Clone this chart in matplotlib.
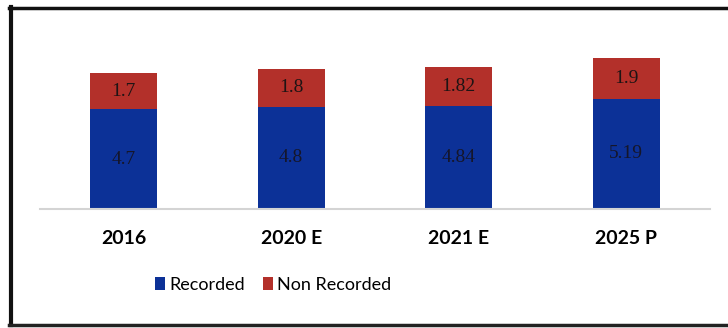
import matplotlib.pyplot as plt
from matplotlib.lines import Line2D
import numpy as np

# market split, recorded vs non recorded
years = ['2016', '2020 E', '2021 E', '2025 P']
recorded = [4.7, 4.8, 4.84, 5.19]
non_recorded = [1.7, 1.8, 1.82, 1.9]

blue = '#0C3197'
red = '#B3302A'
label_font = ['Lato', 'DejaVu Sans']

fig = plt.figure(figsize=(7.28, 3.28), dpi=100)
ax = fig.add_axes([0.055, 0.363, 0.920, 0.518])

x = np.arange(len(years))
b1 = ax.bar(x, recorded, width=0.4, color=blue, zorder=2)
b2 = ax.bar(x, non_recorded, width=0.4, bottom=recorded, color=red, zorder=2)

# values in the middle of each segment
for i in range(len(years)):
    ax.text(x[i], recorded[i] / 2, f'{recorded[i]:g}', ha='center', va='center',
            fontsize=14, color='#15162a', family='Liberation Serif')
    ax.text(x[i], recorded[i] + non_recorded[i] / 2, f'{non_recorded[i]:g}',
            ha='center', va='center', fontsize=14, color='#1e1414',
            family='Liberation Serif')

ax.set_xlim(-0.5, 3.5)
ax.set_ylim(0, 8.0)
ax.set_xticks(x)
ax.set_xticklabels(years, family=label_font, fontsize=14, fontweight='bold')
ax.tick_params(axis='x', length=0, pad=15)
ax.set_yticks([])
for s in ['top', 'right', 'left']:
    ax.spines[s].set_visible(False)
ax.spines['bottom'].set_color('#d4d4d4')
ax.spines['bottom'].set_linewidth(1.5)

fig.legend([b1, b2], ['Recorded', 'Non Recorded'], loc='center',
           bbox_to_anchor=(0.375, 0.132), ncol=2, frameon=False,
           prop={'family': label_font, 'size': 13},
           handlelength=0.55, handleheight=0.8, handletextpad=0.25,
           columnspacing=1.0)

# outer frame (left, top, bottom)
fig.add_artist(Line2D([0.015, 0.015], [0.01, 0.979], color='#111111', lw=3,
                      transform=fig.transFigure))
fig.add_artist(Line2D([0.013, 1.0], [0.977, 0.977], color='#111111', lw=2.5,
                      transform=fig.transFigure))
fig.add_artist(Line2D([0.013, 1.0], [0.01, 0.01], color='#222222', lw=2.5,
                      transform=fig.transFigure))

fig.savefig('out.png', dpi=100)
